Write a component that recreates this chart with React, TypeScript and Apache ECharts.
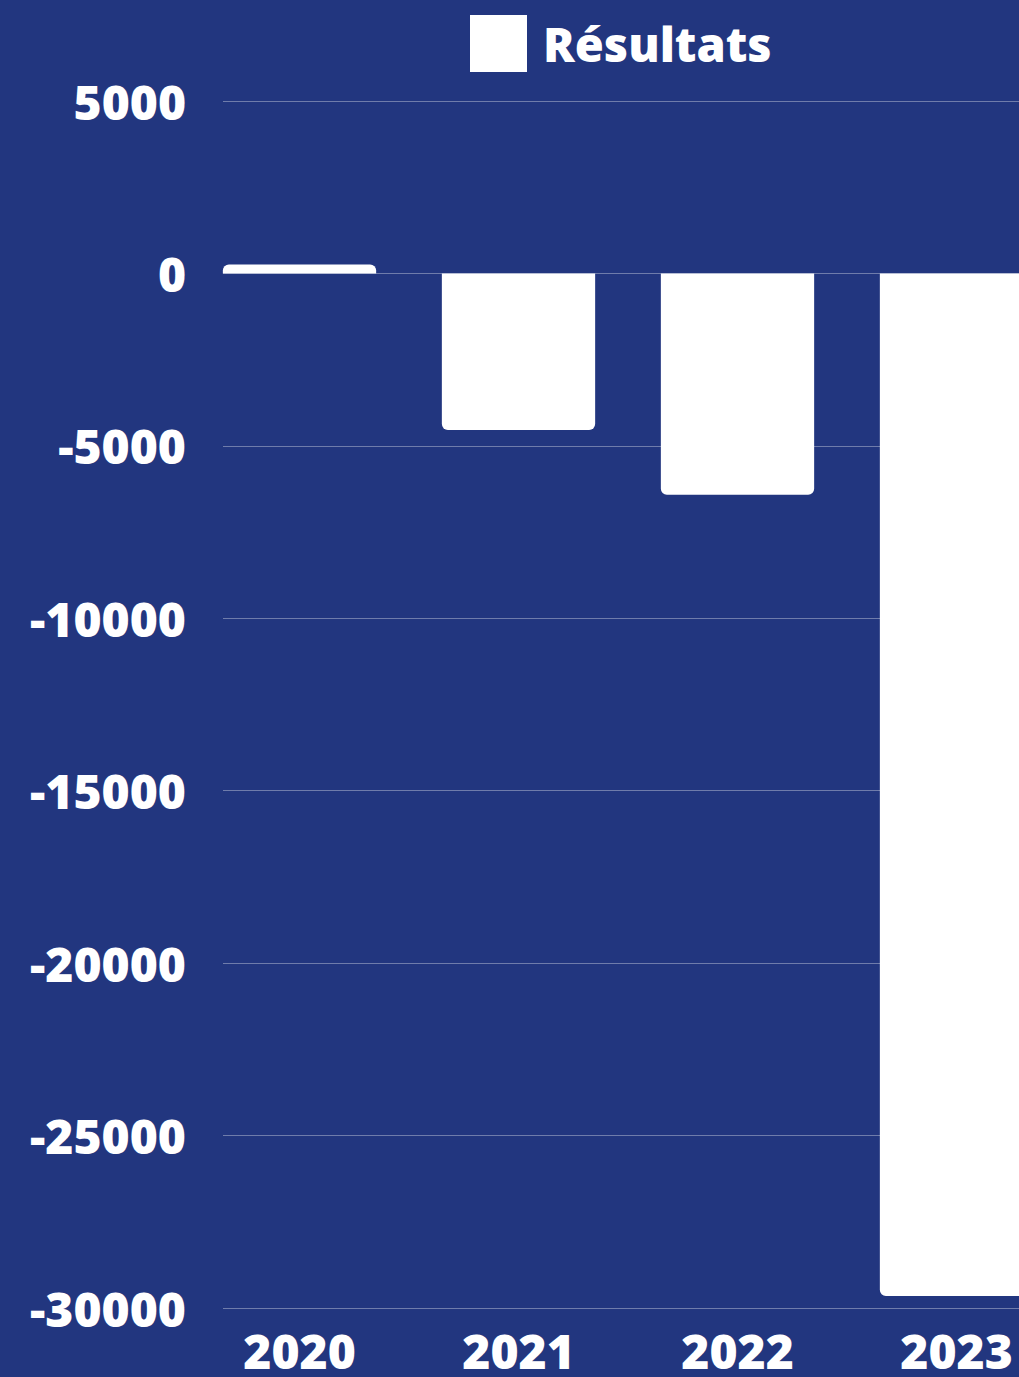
import React, { useEffect, useRef } from "react";
import * as echarts from "echarts";

const categories = ["2020", "2021", "2022", "2023"];
const resultats = [260, -4540, -6420, -29650];
const yTicks = { min: -30000, max: 5000, interval: 5000 };
const seriesName = "Résultats";

const BG = "#22367f";
const FONT = "'Open Sans', 'Noto Sans', sans-serif";

export default function App() {
  const ref = useRef<HTMLDivElement>(null);
  useEffect(() => {
    if (!ref.current) return;
    const chart = echarts.init(ref.current, undefined, { renderer: "svg" });
    const textStyle = { color: "#ffffff", fontFamily: FONT, fontWeight: 800 as any, fontSize: 48 };
    chart.setOption({
      animation: false,
      backgroundColor: BG,
      legend: {
        show: true,
        left: 465,
        top: 10,
        itemWidth: 57,
        itemHeight: 57,
        icon: "rect",
        data: [seriesName],
        textStyle: { ...textStyle, fontSize: 47, padding: [0, 0, 0, 11] },
      },
      grid: [
        { left: 190, right: 34, top: 101, bottom: 69 },
        { left: 223, right: 34, top: 101, bottom: 69 },
      ],
      xAxis: [
        {
          type: "category",
          gridIndex: 0,
          data: categories,
          axisLine: { show: false },
          axisTick: { show: false },
          axisLabel: { ...textStyle, lineHeight: 40, margin: 22 },
        },
        {
          type: "category",
          gridIndex: 1,
          data: categories,
          show: false,
        },
      ],
      yAxis: [
        {
          type: "value",
          gridIndex: 0,
          ...yTicks,
          show: false,
          splitLine: { show: false },
        },
        {
          type: "value",
          gridIndex: 1,
          ...yTicks,
          axisLine: { show: false },
          axisTick: { show: false },
          axisLabel: { ...textStyle, margin: 37, formatter: (v: number) => String(v) },
          splitLine: { show: true, lineStyle: { color: "rgba(255,255,255,0.35)", width: 1 } },
        },
      ],
      series: [
        {
          name: seriesName,
          type: "bar",
          xAxisIndex: 0,
          yAxisIndex: 0,
          barCategoryGap: "30%",
          itemStyle: { color: "#ffffff" },
          data: resultats.map((v) => ({
            value: v,
            itemStyle: { borderRadius: v >= 0 ? [6, 6, 0, 0] : [0, 0, 6, 6] },
          })),
        },
      ],
    });
    return () => chart.dispose();
  }, []);
  return (
    <div
      style={{
        position: "fixed",
        left: 0,
        top: 0,
        width: 1019,
        height: 1377,
        overflow: "hidden",
        background: BG,
      }}
    >
      <div ref={ref} style={{ width: 1100, height: 1377 }} />
    </div>
  );
}
